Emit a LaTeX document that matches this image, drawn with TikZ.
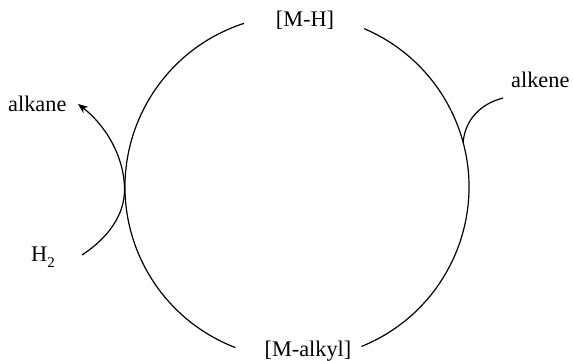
\documentclass[tikz,border=0pt]{standalone}
\usepackage{fontspec}
\setmainfont{Liberation Serif}
\usetikzlibrary{arrows.meta,calc}
\begin{document}
\begin{tikzpicture}[x=1pt,y=-1pt,
  lbl/.style={inner sep=0pt,font=\fontsize{22.3}{26}\selectfont},
  ln/.style={line width=1.2pt,black}]
\useasboundingbox (0,0) rectangle (573,361);
\coordinate (C) at (297,187);
% labels
\node[lbl,anchor=base] (mh) at (305,27) {[M-H]};
\node[lbl,anchor=base] (malkyl) at (308,356) {[M-alkyl]};
\node[lbl,anchor=base west] (alkane) at (8,111) {alkane};
\node[lbl,anchor=base west] (h2) at (31,261) {H\raisebox{-0.3em}{\fontsize{15}{15}\selectfont 2}};
\node[lbl,anchor=base west] (alkene) at (511,88) {alkene};
% circle arcs
\draw[ln] (C) ++(108:172 and -172) arc[start angle=108,end angle=249,x radius=172,y radius=-172];
\draw[ln] (C) ++(-68:172 and -172) arc[start angle=-68,end angle=67,x radius=172,y radius=-172];
% H2 -> alkane
\coordinate (h2e) at (82,255);
\coordinate (tp) at (124.5,190);
\coordinate (ak) at (78,104);
\draw[ln,-{Stealth[length=10pt,width=8pt]}] (h2e) .. controls (108,238) and (124.5,215) .. (tp)
  .. controls (124.5,155) and (104,124) .. (ak);
% alkene
\coordinate (ae) at (503,98);
\coordinate (aj) at ($(C)+(15:172 and -172)$);
\draw[ln] (ae) .. controls (480,104) and (465,120) .. (aj);
\end{tikzpicture}
\end{document}
